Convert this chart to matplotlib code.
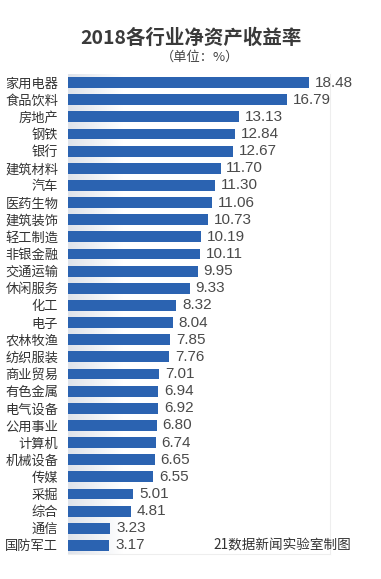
import matplotlib
matplotlib.use("Agg")
import matplotlib.pyplot as plt
import numpy as np
from matplotlib.colors import LinearSegmentedColormap

categories = ["家用电器", "食品饮料", "房地产", "钢铁", "银行", "建筑材料", "汽车", "医药生物",
              "建筑装饰", "轻工制造", "非银金融", "交通运输", "休闲服务", "化工", "电子", "农林牧渔",
              "纺织服装", "商业贸易", "有色金属", "电气设备", "公用事业", "计算机", "机械设备", "传媒",
              "采掘", "综合", "通信", "国防军工"]
values = [18.48, 16.79, 13.13, 12.84, 12.67, 11.70, 11.30, 11.06, 10.73, 10.19, 10.11, 9.95, 9.33,
          8.32, 8.04, 7.85, 7.76, 7.01, 6.94, 6.92, 6.80, 6.74, 6.65, 6.55, 5.01, 4.81, 3.23, 3.17]
title = "2018各行业净资产收益率"
subtitle = "（单位：%）"
source = "21数据新闻实验室制图"

plt.rcParams['font.family'] = ['Noto Sans CJK SC', 'DejaVu Sans']

W, H = 381, 579
fig = plt.figure(figsize=(W / 100, H / 100), dpi=100)
ax = fig.add_axes([68 / W, 1 - 554 / H, (330 - 68) / W, (554 - 74) / H])

n = len(categories)
y = np.arange(n)
# soft shadow gradient behind bars
grad = np.linspace(0, 1, 256).reshape(1, -1)
cmap = LinearSegmentedColormap.from_list("sh", ["#dfe3ea", "#ffffff"])
ax.imshow(grad, extent=[0, 4.2, n - 0.5, -0.5], aspect='auto', cmap=cmap, zorder=0)

ax.barh(y, values, height=0.64, color="#2b63b1", zorder=2)
for yi, v in zip(y, values):
    ax.text(v + 0.45, yi, f"{v:.2f}", va="center", ha="left", fontsize=11,
            color="#4a4a4a", family=['Liberation Sans', 'DejaVu Sans'], zorder=3)

ax.set_xlim(0, 20.1)
ax.set_ylim(n - 0.5, -0.5)
ax.set_yticks(y)
ax.set_yticklabels(categories, fontsize=9.5, color="#333333")
ax.tick_params(axis='y', length=0, pad=7)
ax.set_xticks([])
for s in ["left", "top"]:
    ax.spines[s].set_visible(False)
for s in ["right", "bottom"]:
    ax.spines[s].set_color("#eeeeee")
    ax.spines[s].set_linewidth(0.8)

fig.text(0.5, 1 - 38 / H, title, ha="center", va="center", fontsize=14,
         fontweight="bold", color="#3a3a3a")
fig.text(0.525, 1 - 57 / H, subtitle, ha="center", va="center", fontsize=9.5, color="#444444")
fig.text(351 / W, 1 - 545 / H, source, ha="right", va="center", fontsize=9.8, color="#333333")

fig.savefig("out.png", dpi=100, facecolor="white")
